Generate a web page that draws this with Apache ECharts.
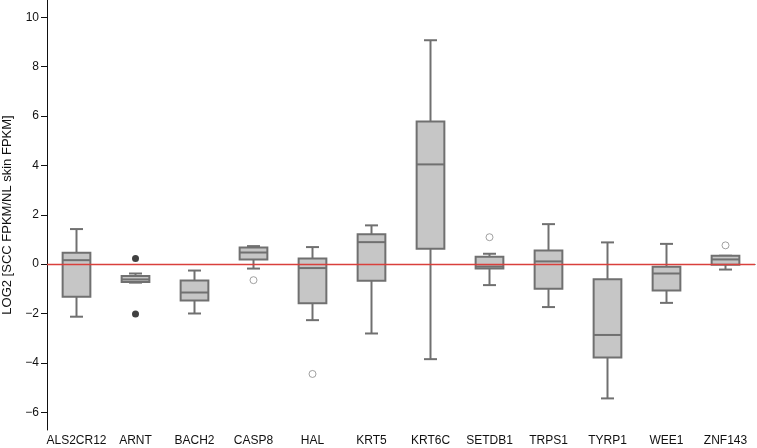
<!DOCTYPE html>
<html><head><meta charset="utf-8">
<script src="https://cdn.jsdelivr.net/npm/echarts@6/dist/echarts.min.js"></script>
<style>html,body{margin:0;padding:0;background:#fff}#c{width:757px;height:448px}</style>
</head><body><div id="c"></div>
<script>
const categories = ['ALS2CR12','ARNT','BACH2','CASP8','HAL','KRT5','KRT6C','SETDB1','TRPS1','TYRP1','WEE1','ZNF143'];
const whiskerLow  = [-2.13,-0.75,-2.00,-0.18,-2.27,-2.81,-3.85,-0.85,-1.74,-5.44,-1.57,-0.22];
const q1          = [-1.32,-0.72,-1.47, 0.19,-1.59,-0.67, 0.62,-0.18,-1.00,-3.78,-1.07,-0.03];
const median      = [ 0.16,-0.62,-1.15, 0.47,-0.16, 0.89, 4.04,-0.10, 0.11,-2.87,-0.38, 0.19];
const q3          = [ 0.46,-0.48,-0.66, 0.67, 0.23, 1.21, 5.78, 0.30, 0.55,-0.61,-0.11, 0.34];
const whiskerHigh = [ 1.42,-0.38,-0.26, 0.73, 0.69, 1.57, 9.07, 0.42, 1.62, 0.88, 0.82, 0.34];
const outliersHollow = [['CASP8',-0.65],['HAL',-4.45],['SETDB1',1.09],['ZNF143',0.76]];
const outliersFilled = [['ARNT',0.23],['ARNT',-2.02]];
const yTicks = [-6,-4,-2,0,2,4,6,8,10];

const boxData = categories.map((c,i)=>[i, whiskerLow[i], q1[i], median[i], q3[i], whiskerHigh[i]]);
const chart = echarts.init(document.getElementById('c'));
const stroke = '#707070';
chart.setOption({
  animation:false,
  textStyle:{fontFamily:'Liberation Sans, Arial, sans-serif'},
  grid:{left:47,right:2,top:0,bottom:18,containLabel:false,outerBoundsMode:'none'},
  xAxis:{type:'category',data:categories,boundaryGap:true,
    axisLine:{lineStyle:{color:'#111',width:1}},axisTick:{show:false},
    axisLabel:{color:'#111',fontSize:12,margin:5,interval:0}},
  yAxis:{type:'value',min:-6.72,max:10.7,
    name:'LOG2 [SCC FPKM/NL skin FPKM]',nameLocation:'middle',nameGap:33,
    nameTextStyle:{color:'#111',fontSize:13},
    axisLine:{show:true,lineStyle:{color:'#111',width:1}},
    axisTick:{show:true,length:6,customValues:yTicks,lineStyle:{color:'#111'}},
    axisLabel:{color:'#111',fontSize:12,margin:8,customValues:yTicks,
      formatter:v=>String(v).replace('-','\u2212')},
    splitLine:{show:false}},
  series:[
    {type:'custom',data:boxData,
     renderItem(params,api){
       const i=api.value(0);
       const bw=api.size([1,0])[0]*0.47;
       const cw=api.size([1,0])[0]*0.22;
       const pLo=api.coord([i,api.value(1)]);
       const pQ1=api.coord([i,api.value(2)]);
       const pMed=api.coord([i,api.value(3)]);
       const pQ3=api.coord([i,api.value(4)]);
       const pHi=api.coord([i,api.value(5)]);
       const x=pQ1[0];
       const ls={stroke:stroke,lineWidth:2,fill:null};
       return {type:'group',children:[
         {type:'line',shape:{x1:x,y1:pHi[1],x2:x,y2:pQ3[1]},style:ls},
         {type:'line',shape:{x1:x,y1:pQ1[1],x2:x,y2:pLo[1]},style:ls},
         {type:'line',shape:{x1:x-cw/2,y1:pHi[1],x2:x+cw/2,y2:pHi[1]},style:ls},
         {type:'line',shape:{x1:x-cw/2,y1:pLo[1],x2:x+cw/2,y2:pLo[1]},style:ls},
         {type:'rect',shape:{x:x-bw/2,y:pQ3[1],width:bw,height:pQ1[1]-pQ3[1]},style:{fill:'#c6c6c6',stroke:stroke,lineWidth:2}},
         {type:'line',shape:{x1:x-bw/2,y1:pMed[1],x2:x+bw/2,y2:pMed[1]},style:ls}
       ]};
     },
     markLine:{silent:true,symbol:'none',label:{show:false},
       lineStyle:{color:'#d9403c',width:1.3,type:'solid'},data:[{yAxis:0}]},
     z:2},
    {type:'scatter',data:outliersHollow,symbol:'circle',symbolSize:7,
     itemStyle:{color:'#fff',borderColor:'#8a8a8a',borderWidth:1},z:3},
    {type:'scatter',data:outliersFilled,symbol:'circle',symbolSize:7,
     itemStyle:{color:'#111'},z:3}
  ]
});
</script></body></html>
